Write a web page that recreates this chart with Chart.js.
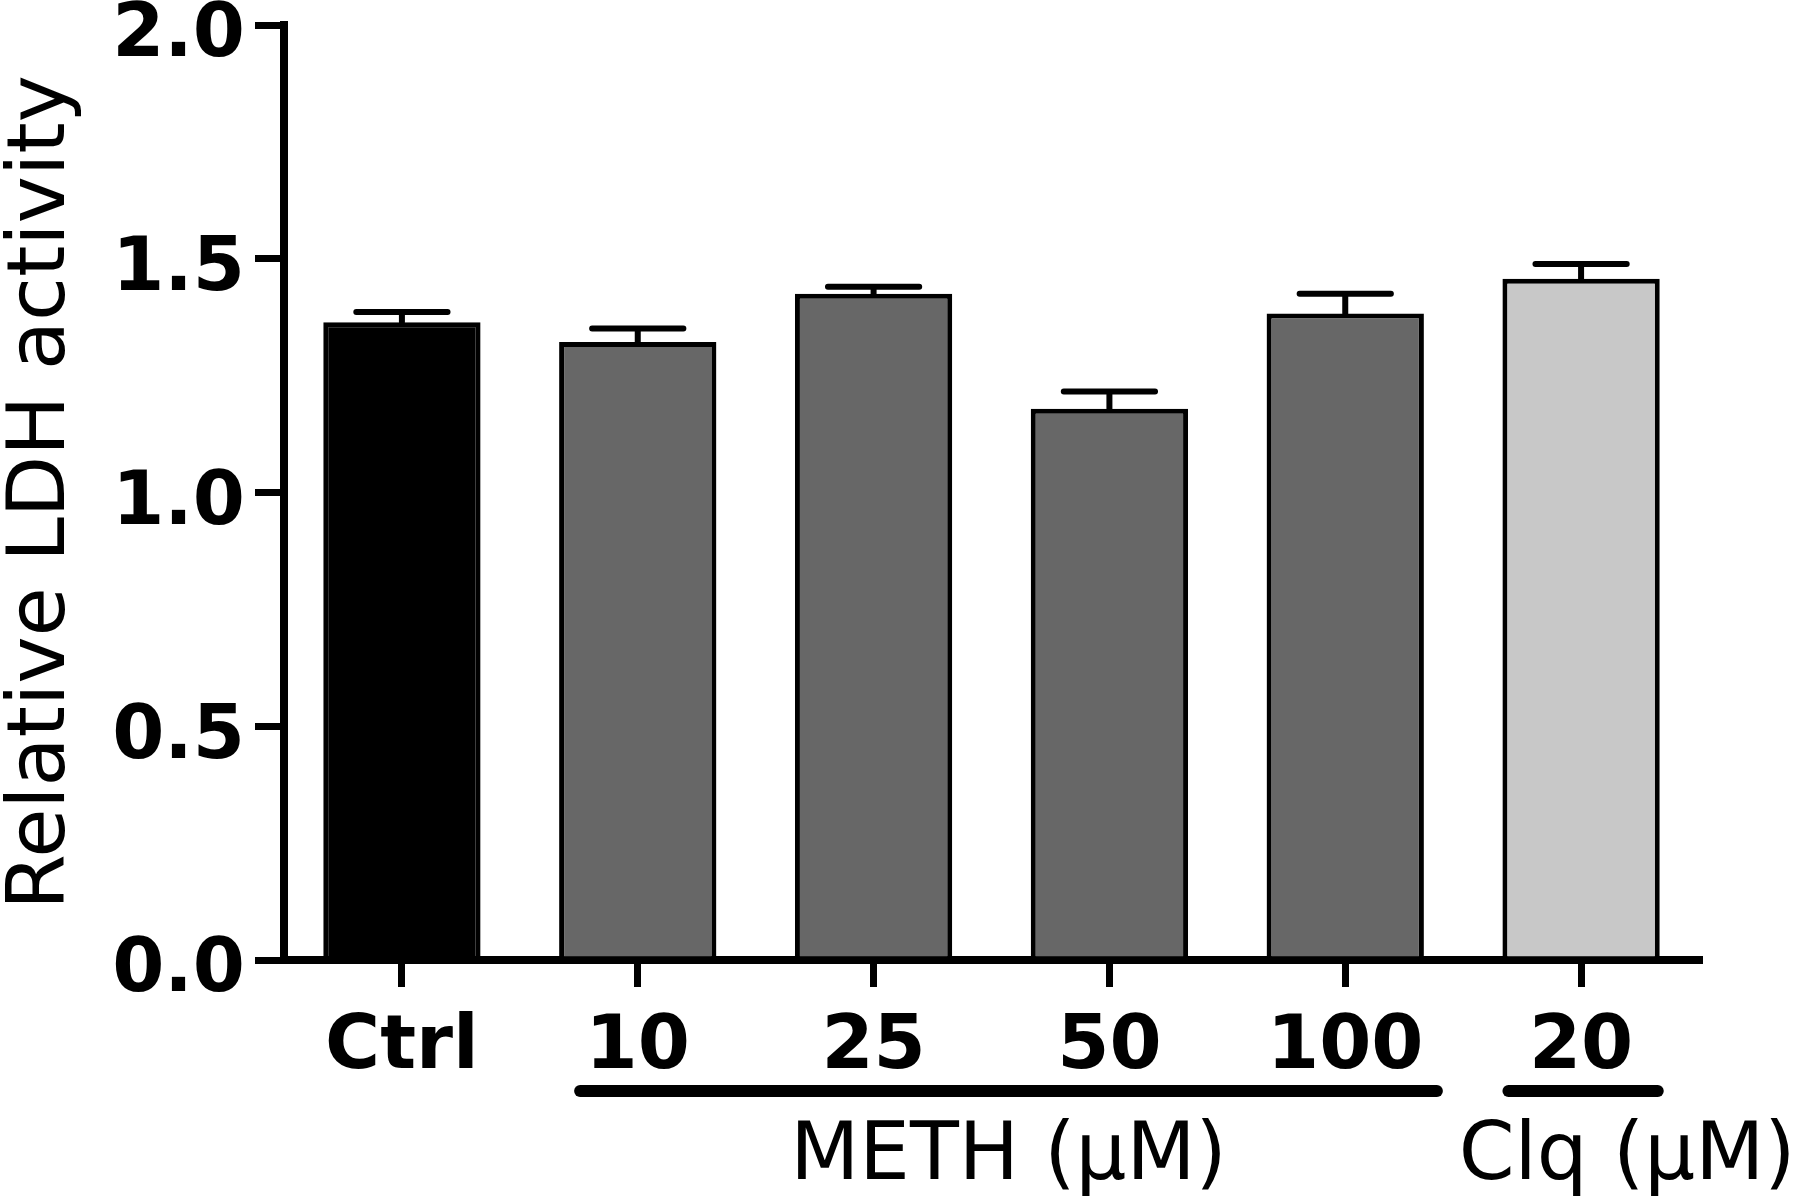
<!DOCTYPE html>
<html>
<head>
<meta charset="utf-8">
<script src="https://cdn.jsdelivr.net/npm/chart.js@4.4.1/dist/chart.umd.min.js"></script>
<style>
  html, body { margin: 0; padding: 0; background: #fff; }
  #wrap { width: 1800px; height: 1202px; position: relative; }
</style>
</head>
<body>
<div id="wrap"><canvas id="ldh-chart"></canvas></div>
<script>
// ---- data ----
const categories = ['Ctrl', '10', '25', '50', '100', '20'];
const ldhMeans   = [1.364, 1.322, 1.425, 1.179, 1.383, 1.457];
const ldhErrors  = [0.022, 0.029, 0.015, 0.037, 0.042, 0.032];
const barColors  = ['#000000', '#676767', '#676767', '#676767', '#676767', '#c8c8c8'];
const yTicks     = [0, 0.5, 1.0, 1.5, 2.0];

// treatment groups under the x labels
const groupLabels = ['METH (μM)', 'Clq (μM)'];
const groupFirst  = [1, 5];
const groupLast   = [4, 5];

const FONT = "'DejaVu Sans', Verdana, sans-serif";

// Upper-only SEM bars with caps
const errorBars = {
  id: 'errorBars',
  afterDatasetsDraw(chart) {
    const ctx = chart.ctx;
    const y = chart.scales.y;
    const meta = chart.getDatasetMeta(0);
    ctx.save();
    ctx.strokeStyle = '#000';
    ctx.lineWidth = 6;
    ctx.lineCap = 'round';
    meta.data.forEach((bar, i) => {
      const top = y.getPixelForValue(ldhMeans[i] + ldhErrors[i]);
      const capHalf = bar.width * 0.29;
      ctx.beginPath();
      ctx.moveTo(bar.x, bar.y);
      ctx.lineTo(bar.x, top);
      ctx.moveTo(bar.x - capHalf, top);
      ctx.lineTo(bar.x + capHalf, top);
      ctx.stroke();
    });
    ctx.restore();
  }
};

// Underline + group name below the category labels
const groupBrackets = {
  id: 'groupBrackets',
  afterDraw(chart) {
    const ctx = chart.ctx;
    const bottom = chart.chartArea.bottom;
    const meta = chart.getDatasetMeta(0);
    const textShift = [17, 46];
    const lineShift = [9, -6];
    ctx.save();
    groupLabels.forEach((label, g) => {
      const a = meta.data[groupFirst[g]];
      const b = meta.data[groupLast[g]];
      const x0 = a.x - a.width / 2 + 12 + lineShift[g];
      const x1 = b.x + b.width / 2 + 4 + lineShift[g];
      ctx.strokeStyle = '#000';
      ctx.lineWidth = 12;
      ctx.lineCap = 'round';
      ctx.beginPath();
      ctx.moveTo(x0, bottom + 131);
      ctx.lineTo(x1, bottom + 131);
      ctx.stroke();

      ctx.fillStyle = '#000';
      ctx.font = `normal 80px ${FONT}`;
      ctx.textAlign = 'center';
      ctx.textBaseline = 'middle';
      ctx.fillText(label, (a.x + b.x) / 2 + textShift[g], bottom + 198);
    });
    ctx.restore();
  }
};

new Chart(document.getElementById('ldh-chart').getContext('2d'), {
  type: 'bar',
  data: {
    labels: categories,
    datasets: [{
      data: ldhMeans,
      backgroundColor: barColors,
      borderColor: '#000',
      borderWidth: 5,
      categoryPercentage: 1,
      barPercentage: 0.667
    }]
  },
  options: {
    responsive: true,
    maintainAspectRatio: false,
    animation: false,
    layout: { padding: { top: 25, right: 101, left: 0, bottom: 0 } },
    plugins: {
      legend: { display: false },
      tooltip: { enabled: false }
    },
    scales: {
      x: {
        offset: true,
        border: { color: '#000', width: 8 },
        grid: { offset: false, drawOnChartArea: false, color: '#000', lineWidth: 7, tickLength: 27 },
        ticks: {
          color: '#000',
          font: { family: FONT, size: 75, weight: 'bold', lineHeight: 1 },
          padding: 24,
          maxRotation: 0,
          autoSkip: false
        },
        afterFit: s => { s.height = 242; }
      },
      y: {
        min: 0,
        max: 2,
        afterBuildTicks: s => { s.ticks = yTicks.map(v => ({ value: v })); },
        border: { color: '#000', width: 8 },
        grid: { drawOnChartArea: false, color: '#000', lineWidth: 7, tickLength: 29 },
        ticks: {
          color: '#000',
          font: { family: FONT, size: 75, weight: 'bold', lineHeight: 1 },
          padding: 10,
          labelOffset: 12,
          callback: v => Number(v).toFixed(1)
        },
        title: {
          display: true,
          text: 'Relative LDH activity',
          color: '#000',
          font: { family: FONT, size: 80, weight: 'normal', lineHeight: 1 },
          padding: { top: 3, bottom: 0 }
        },
        afterFit: s => { s.width = 284; s.paddingTop = 0; s.paddingBottom = 0; }
      }
    }
  },
  plugins: [errorBars, groupBrackets]
});
</script>
</body>
</html>
